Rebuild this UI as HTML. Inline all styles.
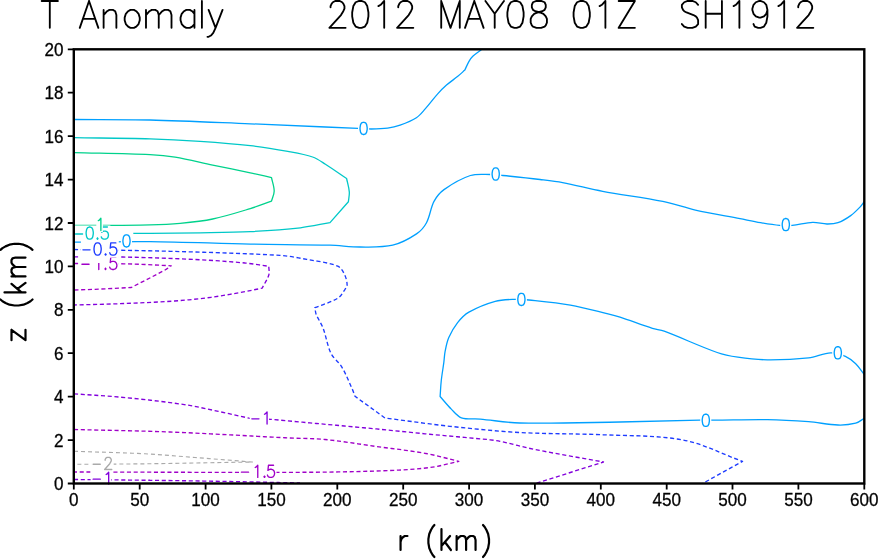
<!DOCTYPE html>
<html><head><meta charset="utf-8"><style>html,body{margin:0;padding:0;background:#fff;overflow:hidden}svg{display:block}</style></head>
<body><svg width="879" height="559" viewBox="0 0 879 559">
<rect width="879" height="559" fill="#fff"/>
<path d="M74.00 119.50 C99.33 119.67 124.68 119.38 150.00 120.00 C183.44 120.82 216.87 122.47 250.30 123.80 C275.34 124.80 300.37 125.95 325.40 127.00 C336.27 127.45 347.14 127.83 358.00 128.30 C362.44 128.49 366.87 129.01 371.30 129.00 C376.73 128.98 382.23 128.91 387.60 128.20 C391.83 127.64 396.09 126.66 400.10 125.20 C405.69 123.16 411.46 120.91 416.40 117.70 C419.83 115.47 422.44 111.99 425.20 108.90 C429.54 104.05 433.36 98.75 437.70 93.90 C440.46 90.81 443.38 87.83 446.50 85.10 C450.08 81.96 454.11 79.33 457.80 76.30 C460.21 74.33 462.47 72.17 464.80 70.10 C466.20 67.17 467.38 64.10 469.00 61.30 C470.04 59.50 471.28 57.72 472.80 56.30 C475.48 53.79 478.67 51.77 481.60 49.50" fill="none" stroke="#00a0ff" stroke-width="1.30" stroke-linejoin="round"/>
<path d="M74.00 242.10 C99.33 241.93 124.67 241.31 150.00 241.60 C183.44 241.98 216.86 243.43 250.30 244.10 C276.86 244.63 303.45 244.50 330.00 245.20 C340.05 245.47 350.07 247.00 360.10 247.00 C370.97 247.00 382.30 247.62 392.70 245.20 C401.10 243.25 409.32 238.68 416.50 233.90 C420.59 231.18 424.17 227.03 426.50 222.70 C430.00 216.19 430.54 207.95 434.00 201.40 C436.37 196.91 439.87 192.54 444.00 189.60 C452.00 183.91 461.13 178.52 470.40 175.50 C476.60 173.48 483.74 174.50 490.40 174.50 C494.57 174.50 498.74 175.08 502.90 175.50 C515.27 176.75 527.65 178.03 540.00 179.50 C547.55 180.40 555.13 181.19 562.60 182.60 C576.03 185.13 589.26 188.78 602.70 191.30 C622.66 195.05 642.91 197.37 662.80 201.40 C673.81 203.63 684.43 207.64 695.40 210.10 C710.17 213.41 725.13 215.83 740.00 218.70 C746.87 220.03 753.71 221.53 760.60 222.70 C766.87 223.76 773.17 224.86 779.50 225.40 C783.71 225.76 787.99 225.78 792.20 225.40 C799.06 224.78 805.85 222.68 812.70 222.40 C817.45 222.21 822.23 223.94 827.00 224.00 C830.67 224.04 834.59 223.91 838.00 222.70 C842.49 221.11 846.77 218.39 850.70 215.60 C854.17 213.13 857.23 209.98 860.20 206.90 C861.76 205.28 862.93 203.30 864.30 201.50" fill="none" stroke="#00a0ff" stroke-width="1.30" stroke-linejoin="round"/>
<path d="M864.30 374.50 C861.43 370.90 858.98 366.86 855.70 363.70 C852.68 360.80 849.20 357.96 845.40 356.30 C840.87 354.32 835.61 352.60 830.70 352.80 C823.34 353.10 816.08 356.97 808.60 357.80 C794.95 359.31 781.05 359.92 767.30 359.80 C757.48 359.72 747.61 358.62 737.90 357.20 C730.91 356.18 723.86 354.85 717.20 352.50 C699.29 346.18 682.01 337.85 664.20 331.20 C660.41 329.78 656.26 329.53 652.40 328.30 C641.52 324.83 630.86 320.65 620.00 317.10 C616.06 315.81 612.03 314.78 608.00 313.80 C595.50 310.78 583.06 307.31 570.40 305.10 C556.72 302.71 542.82 301.45 529.00 300.00 C524.42 299.52 519.79 299.12 515.20 299.30 C508.52 299.56 501.59 299.53 495.20 301.30 C486.16 303.80 477.03 307.50 468.90 312.10 C464.49 314.60 460.75 318.60 457.60 322.60 C454.05 327.10 451.09 332.33 448.80 337.60 C446.92 341.93 446.03 346.74 445.10 351.40 C444.36 355.11 444.29 358.94 443.80 362.70 C443.03 368.57 441.94 374.41 441.30 380.30 C440.71 385.68 440.50 391.10 440.10 396.50 C443.83 400.70 447.34 405.14 451.30 409.10 C454.44 412.24 457.41 416.42 461.40 417.80 C467.04 419.75 473.94 418.54 480.20 419.10 C493.41 420.28 506.55 422.73 519.80 423.00 C553.15 423.69 586.60 422.52 620.00 422.00 C646.54 421.59 673.07 420.71 699.60 420.20 C704.50 420.11 709.40 420.24 714.30 420.20 C731.97 420.04 749.64 419.32 767.30 419.60 C781.08 419.82 794.86 420.65 808.60 421.70 C818.43 422.45 828.20 424.69 838.00 425.00 C843.90 425.19 850.07 424.63 855.70 423.20 C858.83 422.40 861.43 419.93 864.30 418.30" fill="none" stroke="#00a0ff" stroke-width="1.30" stroke-linejoin="round"/>
<path d="M74.00 137.70 C99.33 138.07 124.68 138.08 150.00 138.80 C166.71 139.28 183.42 140.17 200.10 141.30 C216.85 142.44 233.63 143.68 250.30 145.60 C262.86 147.05 275.36 149.12 287.80 151.40 C296.13 152.92 304.66 154.30 312.60 157.00 C317.19 158.56 321.27 161.59 325.40 164.20 C332.60 168.75 339.53 173.73 346.60 178.50 C347.50 182.97 348.95 187.40 349.30 191.90 C349.55 195.14 348.70 198.43 348.40 201.70 L330.00 222.60 C320.13 224.33 310.34 226.68 300.40 227.80 C283.78 229.68 267.02 230.77 250.30 231.60 C233.59 232.43 216.84 232.52 200.10 232.80 C183.40 233.08 166.70 233.22 150.00 233.30 C124.67 233.42 99.33 233.37 74.00 233.40" fill="none" stroke="#00c8c8" stroke-width="1.30" stroke-linejoin="round"/>
<path d="M74.00 152.60 C99.33 153.27 124.70 153.47 150.00 154.60 C158.40 154.97 166.82 155.71 175.10 157.10 C187.72 159.21 200.16 162.48 212.70 165.10 C225.22 167.71 237.79 170.14 250.30 172.80 C257.39 174.31 264.43 176.00 271.50 177.60 C272.40 182.07 274.20 186.56 274.20 191.00 C274.20 194.43 272.40 197.80 271.50 201.20 C264.43 203.67 257.46 206.43 250.30 208.60 C237.86 212.37 225.40 216.34 212.70 219.00 C202.00 221.24 191.01 222.29 180.10 223.30 C170.11 224.22 160.04 224.59 150.00 224.80 C124.68 225.33 99.33 225.27 74.00 225.50" fill="none" stroke="#00d28c" stroke-width="1.30" stroke-linejoin="round"/>
<path d="M74.00 249.50 C106.00 250.10 138.01 250.38 170.00 251.30 C206.68 252.35 243.41 253.23 280.00 255.40 C289.01 255.93 297.92 257.75 306.80 259.40 C317.16 261.32 328.29 262.40 337.70 266.10 C340.83 267.33 342.87 271.14 344.40 274.20 C346.00 277.41 347.10 281.43 347.10 284.90 C347.10 286.80 345.55 288.66 344.40 290.30 C342.42 293.13 340.62 296.58 337.70 298.30 C330.79 302.38 322.50 304.57 314.90 307.70 C315.33 309.93 315.36 312.31 316.20 314.40 C318.06 319.04 321.22 323.20 323.00 327.90 C326.15 336.20 327.20 345.50 331.00 353.40 C333.44 358.47 338.80 361.92 341.70 366.80 C345.97 373.98 349.05 381.94 352.50 389.60 C353.48 391.77 354.17 394.07 355.00 396.30 L385.00 418.00 C406.67 420.77 428.29 423.96 450.00 426.30 C473.22 428.80 496.49 431.21 519.80 432.50 C547.65 434.04 575.62 433.51 603.50 434.80 C630.16 436.04 657.44 435.13 683.40 440.10 C703.77 444.00 722.80 454.30 742.50 461.40 L702.60 483.50" fill="none" stroke="#1e3cff" stroke-width="1.35" stroke-linejoin="round" stroke-dasharray="4.1 2.65"/>
<path d="M74.00 256.80 C90.17 256.87 106.34 256.64 122.50 257.00 C146.67 257.54 170.85 258.32 195.00 259.50 C211.68 260.32 228.37 261.47 245.00 263.00 C252.97 263.73 260.87 265.20 268.80 266.30 C268.80 269.20 269.63 272.30 268.80 275.00 C267.39 279.60 264.33 283.80 262.10 288.20 C254.20 289.73 246.32 291.39 238.40 292.80 C229.32 294.42 220.24 296.12 211.10 297.30 C198.98 298.86 186.80 300.14 174.60 301.00 C156.43 302.28 138.21 302.98 120.00 303.70 C104.67 304.31 89.33 304.57 74.00 305.00" fill="none" stroke="#8200dc" stroke-width="1.35" stroke-linejoin="round" stroke-dasharray="4.1 2.65"/>
<path d="M74.00 393.80 C91.43 395.10 108.91 396.00 126.30 397.70 C145.67 399.60 165.06 401.74 184.30 404.60 C195.76 406.30 207.06 409.02 218.40 411.40 C228.66 413.55 238.87 415.93 249.10 418.20 C256.90 418.63 264.71 418.92 272.50 419.50 C281.68 420.19 290.83 421.17 300.00 422.00 C325.00 424.27 350.01 426.44 375.00 428.80 C391.68 430.37 408.33 432.21 425.00 433.80 C445.83 435.78 466.67 437.60 487.50 439.50 C491.67 440.10 495.88 440.43 500.00 441.30 C511.88 443.80 523.59 447.22 535.50 449.60 C558.09 454.12 580.83 457.87 603.50 462.00 L535.50 483.50" fill="none" stroke="#8200dc" stroke-width="1.35" stroke-linejoin="round" stroke-dasharray="4.1 2.65"/>
<path d="M74.00 479.50 C99.33 479.77 124.67 479.98 150.00 480.30 C176.67 480.64 203.33 481.02 230.00 481.50 C253.33 481.92 276.67 482.50 300.00 483.00" fill="none" stroke="#8200dc" stroke-width="1.35" stroke-linejoin="round" stroke-dasharray="4.1 2.65"/>
<path d="M74.00 263.50 C90.60 263.60 107.20 263.57 123.80 263.80 C130.87 263.90 137.94 264.20 145.00 264.50 C153.77 264.87 162.53 265.37 171.30 265.80 C169.20 267.20 167.22 268.80 165.00 270.00 C153.88 276.03 142.53 281.67 131.30 287.50 C119.20 288.10 107.10 288.77 95.00 289.30 C88.00 289.61 81.00 289.77 74.00 290.00" fill="none" stroke="#a000c8" stroke-width="1.35" stroke-linejoin="round" stroke-dasharray="4.1 2.65"/>
<path d="M74.00 429.50 C106.00 430.33 138.02 430.74 170.00 432.00 C209.95 433.57 249.86 436.07 289.80 438.00 C301.53 438.57 313.32 438.36 325.00 439.50 C341.72 441.13 358.34 444.00 375.00 446.30 C391.67 448.60 408.45 450.34 425.00 453.30 C436.38 455.34 447.53 458.63 458.80 461.30 C449.20 463.37 439.72 466.29 430.00 467.50 C414.29 469.46 398.36 470.21 382.50 470.80 C355.02 471.81 327.50 472.19 300.00 472.30 C224.67 472.59 149.33 472.10 74.00 472.00" fill="none" stroke="#a000c8" stroke-width="1.35" stroke-linejoin="round" stroke-dasharray="4.1 2.65"/>
<path d="M74.00 451.30 C97.67 452.13 121.35 452.59 145.00 453.80 C161.69 454.66 178.34 456.23 195.00 457.50 C214.17 458.96 233.33 460.50 252.50 462.00 C216.67 462.60 180.83 463.34 145.00 463.80 C121.33 464.10 97.67 464.13 74.00 464.30" fill="none" stroke="#aaaaaa" stroke-width="1.15" stroke-linejoin="round" stroke-dasharray="4 3"/>
<rect x="490.1" y="166.4" width="11.1" height="15.2" fill="#fff"/>
<path d="M495.19 167.91 L493.66 168.49 L492.64 170.23 L492.13 173.13 L492.13 174.87 L492.64 177.77 L493.66 179.51 L495.19 180.09 L496.21 180.09 L497.74 179.51 L498.76 177.77 L499.27 174.87 L499.27 173.13 L498.76 170.23 L497.74 168.49 L496.21 167.91 L495.19 167.91" fill="none" stroke="#00a0ff" stroke-width="1.35" stroke-linecap="round" stroke-linejoin="round"/>
<rect x="358.0" y="120.8" width="11.1" height="15.2" fill="#fff"/>
<path d="M363.09 122.31 L361.56 122.89 L360.54 124.63 L360.03 127.53 L360.03 129.27 L360.54 132.17 L361.56 133.91 L363.09 134.49 L364.11 134.49 L365.64 133.91 L366.66 132.17 L367.17 129.27 L367.17 127.53 L366.66 124.63 L365.64 122.89 L364.11 122.31 L363.09 122.31" fill="none" stroke="#00a0ff" stroke-width="1.35" stroke-linecap="round" stroke-linejoin="round"/>
<rect x="780.2" y="217.0" width="11.1" height="15.2" fill="#fff"/>
<path d="M785.29 218.51 L783.76 219.09 L782.74 220.83 L782.23 223.73 L782.23 225.47 L782.74 228.37 L783.76 230.11 L785.29 230.69 L786.31 230.69 L787.84 230.11 L788.86 228.37 L789.37 225.47 L789.37 223.73 L788.86 220.83 L787.84 219.09 L786.31 218.51 L785.29 218.51" fill="none" stroke="#00a0ff" stroke-width="1.35" stroke-linecap="round" stroke-linejoin="round"/>
<rect x="515.8" y="291.8" width="11.1" height="15.2" fill="#fff"/>
<path d="M520.89 293.31 L519.36 293.89 L518.34 295.63 L517.83 298.53 L517.83 300.27 L518.34 303.17 L519.36 304.91 L520.89 305.49 L521.91 305.49 L523.44 304.91 L524.46 303.17 L524.97 300.27 L524.97 298.53 L524.46 295.63 L523.44 293.89 L521.91 293.31 L520.89 293.31" fill="none" stroke="#00a0ff" stroke-width="1.35" stroke-linecap="round" stroke-linejoin="round"/>
<rect x="832.2" y="345.2" width="11.1" height="15.2" fill="#fff"/>
<path d="M837.29 346.71 L835.76 347.29 L834.74 349.03 L834.23 351.93 L834.23 353.67 L834.74 356.57 L835.76 358.31 L837.29 358.89 L838.31 358.89 L839.84 358.31 L840.86 356.57 L841.37 353.67 L841.37 351.93 L840.86 349.03 L839.84 347.29 L838.31 346.71 L837.29 346.71" fill="none" stroke="#00a0ff" stroke-width="1.35" stroke-linecap="round" stroke-linejoin="round"/>
<rect x="700.2" y="412.7" width="11.1" height="15.2" fill="#fff"/>
<path d="M705.29 414.21 L703.76 414.79 L702.74 416.53 L702.23 419.43 L702.23 421.17 L702.74 424.07 L703.76 425.81 L705.29 426.39 L706.31 426.39 L707.84 425.81 L708.86 424.07 L709.37 421.17 L709.37 419.43 L708.86 416.53 L707.84 414.79 L706.31 414.21 L705.29 414.21" fill="none" stroke="#00a0ff" stroke-width="1.35" stroke-linecap="round" stroke-linejoin="round"/>
<rect x="73.4" y="225.5" width="37.0" height="15.2" fill="#fff"/>
<path d="M75.43 233.97 L82.57 233.97 M89.19 227.01 L87.66 227.59 L86.64 229.33 L86.13 232.23 L86.13 233.97 L86.64 236.87 L87.66 238.61 L89.19 239.19 L90.21 239.19 L91.74 238.61 L92.76 236.87 L93.27 233.97 L93.27 232.23 L92.76 229.33 L91.74 227.59 L90.21 227.01 L89.19 227.01 M97.50 238.03 L96.99 238.61 L97.50 239.19 L98.01 238.61 L97.50 238.03 M107.40 227.01 L102.30 227.01 L101.79 232.23 L102.30 231.65 L103.83 231.07 L105.36 231.07 L106.89 231.65 L107.91 232.81 L108.42 234.55 L108.42 235.71 L107.91 237.45 L106.89 238.61 L105.36 239.19 L103.83 239.19 L102.30 238.61 L101.79 238.03 L101.28 236.87" fill="none" stroke="#00c8c8" stroke-width="1.35" stroke-linecap="round" stroke-linejoin="round"/>
<rect x="96.3" y="216.8" width="6.6" height="15.2" fill="#fff"/>
<path d="M98.32 220.63 L99.34 220.05 L100.88 218.31 L100.88 230.49" fill="none" stroke="#00d28c" stroke-width="1.35" stroke-linecap="round" stroke-linejoin="round"/>
<rect x="109.8" y="231.6" width="23.5" height="3.6" fill="#fff"/>
<rect x="120.9" y="233.3" width="11.1" height="15.2" fill="#fff"/>
<path d="M125.99 234.81 L124.46 235.39 L123.44 237.13 L122.93 240.03 L122.93 241.77 L123.44 244.67 L124.46 246.41 L125.99 246.99 L127.01 246.99 L128.54 246.41 L129.56 244.67 L130.07 241.77 L130.07 240.03 L129.56 237.13 L128.54 235.39 L127.01 234.81 L125.99 234.81" fill="none" stroke="#00a0ff" stroke-width="1.35" stroke-linecap="round" stroke-linejoin="round"/>
<rect x="79.9" y="255.8" width="38.9" height="15.2" fill="#fff"/>
<path d="M81.93 264.27 L89.07 264.27 M96.22 259.63 L97.25 259.05 L98.78 257.31 L98.78 269.49 M105.50 268.33 L104.99 268.91 L105.50 269.49 L106.01 268.91 L105.50 268.33 M115.85 257.31 L110.75 257.31 L110.24 262.53 L110.75 261.95 L112.28 261.37 L113.81 261.37 L115.34 261.95 L116.36 263.11 L116.87 264.85 L116.87 266.01 L116.36 267.75 L115.34 268.91 L113.81 269.49 L112.28 269.49 L110.75 268.91 L110.24 268.33 L109.73 267.17" fill="none" stroke="#a000c8" stroke-width="1.35" stroke-linecap="round" stroke-linejoin="round"/>
<rect x="80.9" y="240.3" width="37.9" height="17.4" fill="#fff"/>
<path d="M82.93 249.87 L90.07 249.87 M97.09 242.91 L95.56 243.49 L94.54 245.23 L94.03 248.13 L94.03 249.87 L94.54 252.77 L95.56 254.51 L97.09 255.09 L98.11 255.09 L99.64 254.51 L100.66 252.77 L101.17 249.87 L101.17 248.13 L100.66 245.23 L99.64 243.49 L98.11 242.91 L97.09 242.91 M105.60 253.93 L105.09 254.51 L105.60 255.09 L106.11 254.51 L105.60 253.93 M115.85 242.91 L110.75 242.91 L110.24 248.13 L110.75 247.55 L112.28 246.97 L113.81 246.97 L115.34 247.55 L116.36 248.71 L116.87 250.45 L116.87 251.61 L116.36 253.35 L115.34 254.51 L113.81 255.09 L112.28 255.09 L110.75 254.51 L110.24 253.93 L109.73 252.77" fill="none" stroke="#1e3cff" stroke-width="1.35" stroke-linecap="round" stroke-linejoin="round"/>
<rect x="91.1" y="455.8" width="22.6" height="15.2" fill="#fff"/>
<path d="M93.13 464.27 L100.27 464.27 M105.14 460.21 L105.14 459.63 L105.65 458.47 L106.16 457.89 L107.18 457.31 L109.22 457.31 L110.24 457.89 L110.75 458.47 L111.26 459.63 L111.26 460.79 L110.75 461.95 L109.73 463.69 L104.63 469.49 L111.77 469.49" fill="none" stroke="#aaaaaa" stroke-width="1.35" stroke-linecap="round" stroke-linejoin="round"/>
<rect x="90.6" y="470.8" width="20.5" height="15.0" fill="#fff"/>
<path d="M93.13 479.17 L100.27 479.17 M106.12 474.53 L107.15 473.95 L108.68 472.21 L108.68 484.39" fill="none" stroke="#8200dc" stroke-width="1.35" stroke-linecap="round" stroke-linejoin="round"/>
<rect x="239.4" y="463.7" width="37.1" height="15.2" fill="#fff"/>
<path d="M241.43 472.17 L248.57 472.17 M255.22 467.53 L256.25 466.95 L257.77 465.21 L257.77 477.39 M264.50 476.23 L263.99 476.81 L264.50 477.39 L265.01 476.81 L264.50 476.23 M273.55 465.21 L268.45 465.21 L267.94 470.43 L268.45 469.85 L269.98 469.27 L271.51 469.27 L273.04 469.85 L274.06 471.01 L274.57 472.75 L274.57 473.91 L274.06 475.65 L273.04 476.81 L271.51 477.39 L269.98 477.39 L268.45 476.81 L267.94 476.23 L267.43 475.07" fill="none" stroke="#a000c8" stroke-width="1.35" stroke-linecap="round" stroke-linejoin="round"/>
<rect x="249.8" y="410.4" width="19.2" height="15.2" fill="#fff"/>
<path d="M251.83 418.87 L258.97 418.87 M264.52 414.23 L265.55 413.65 L267.07 411.91 L267.07 424.09" fill="none" stroke="#8200dc" stroke-width="1.35" stroke-linecap="round" stroke-linejoin="round"/>
<rect x="94.5" y="256.0" width="7.5" height="7.0" fill="#fff"/>
<rect x="103.5" y="484.6" width="8.0" height="2.5" fill="#fff"/>
<rect x="73.8" y="49.3" width="790.5" height="434.2" fill="none" stroke="#000" stroke-width="2.4"/>
<path d="M73.8 483.5 V489.5 M139.7 483.5 V489.5 M205.6 483.5 V489.5 M271.4 483.5 V489.5 M337.3 483.5 V489.5 M403.2 483.5 V489.5 M469.1 483.5 V489.5 M534.9 483.5 V489.5 M600.8 483.5 V489.5 M666.7 483.5 V489.5 M732.5 483.5 V489.5 M798.4 483.5 V489.5 M864.3 483.5 V489.5 M73.8 483.5 H67.8 M73.8 440.1 H67.8 M73.8 396.7 H67.8 M73.8 353.2 H67.8 M73.8 309.8 H67.8 M73.8 266.4 H67.8 M73.8 223.0 H67.8 M73.8 179.6 H67.8 M73.8 136.1 H67.8 M73.8 92.7 H67.8 M73.8 49.3 H67.8" stroke="#000" stroke-width="1.8" fill="none"/>
<g opacity="0.999">
<text transform="translate(73.8 506) scale(0.95 1)" text-anchor="middle" font-family="Liberation Sans" font-size="18" fill="#000" stroke="#000" stroke-width="0.3">0</text>
<text transform="translate(139.7 506) scale(0.95 1)" text-anchor="middle" font-family="Liberation Sans" font-size="18" fill="#000" stroke="#000" stroke-width="0.3">50</text>
<text transform="translate(205.6 506) scale(0.95 1)" text-anchor="middle" font-family="Liberation Sans" font-size="18" fill="#000" stroke="#000" stroke-width="0.3">100</text>
<text transform="translate(271.4 506) scale(0.95 1)" text-anchor="middle" font-family="Liberation Sans" font-size="18" fill="#000" stroke="#000" stroke-width="0.3">150</text>
<text transform="translate(337.3 506) scale(0.95 1)" text-anchor="middle" font-family="Liberation Sans" font-size="18" fill="#000" stroke="#000" stroke-width="0.3">200</text>
<text transform="translate(403.2 506) scale(0.95 1)" text-anchor="middle" font-family="Liberation Sans" font-size="18" fill="#000" stroke="#000" stroke-width="0.3">250</text>
<text transform="translate(469.1 506) scale(0.95 1)" text-anchor="middle" font-family="Liberation Sans" font-size="18" fill="#000" stroke="#000" stroke-width="0.3">300</text>
<text transform="translate(534.9 506) scale(0.95 1)" text-anchor="middle" font-family="Liberation Sans" font-size="18" fill="#000" stroke="#000" stroke-width="0.3">350</text>
<text transform="translate(600.8 506) scale(0.95 1)" text-anchor="middle" font-family="Liberation Sans" font-size="18" fill="#000" stroke="#000" stroke-width="0.3">400</text>
<text transform="translate(666.7 506) scale(0.95 1)" text-anchor="middle" font-family="Liberation Sans" font-size="18" fill="#000" stroke="#000" stroke-width="0.3">450</text>
<text transform="translate(732.5 506) scale(0.95 1)" text-anchor="middle" font-family="Liberation Sans" font-size="18" fill="#000" stroke="#000" stroke-width="0.3">500</text>
<text transform="translate(798.4 506) scale(0.95 1)" text-anchor="middle" font-family="Liberation Sans" font-size="18" fill="#000" stroke="#000" stroke-width="0.3">550</text>
<text transform="translate(864.3 506) scale(0.95 1)" text-anchor="middle" font-family="Liberation Sans" font-size="18" fill="#000" stroke="#000" stroke-width="0.3">600</text>
<text transform="translate(63.6 490.0) scale(0.95 1)" text-anchor="end" font-family="Liberation Sans" font-size="18" fill="#000" stroke="#000" stroke-width="0.3">0</text>
<text transform="translate(63.6 446.6) scale(0.95 1)" text-anchor="end" font-family="Liberation Sans" font-size="18" fill="#000" stroke="#000" stroke-width="0.3">2</text>
<text transform="translate(63.6 403.2) scale(0.95 1)" text-anchor="end" font-family="Liberation Sans" font-size="18" fill="#000" stroke="#000" stroke-width="0.3">4</text>
<text transform="translate(63.6 359.7) scale(0.95 1)" text-anchor="end" font-family="Liberation Sans" font-size="18" fill="#000" stroke="#000" stroke-width="0.3">6</text>
<text transform="translate(63.6 316.3) scale(0.95 1)" text-anchor="end" font-family="Liberation Sans" font-size="18" fill="#000" stroke="#000" stroke-width="0.3">8</text>
<text transform="translate(63.6 272.9) scale(0.95 1)" text-anchor="end" font-family="Liberation Sans" font-size="18" fill="#000" stroke="#000" stroke-width="0.3">10</text>
<text transform="translate(63.6 229.5) scale(0.95 1)" text-anchor="end" font-family="Liberation Sans" font-size="18" fill="#000" stroke="#000" stroke-width="0.3">12</text>
<text transform="translate(63.6 186.1) scale(0.95 1)" text-anchor="end" font-family="Liberation Sans" font-size="18" fill="#000" stroke="#000" stroke-width="0.3">14</text>
<text transform="translate(63.6 142.6) scale(0.95 1)" text-anchor="end" font-family="Liberation Sans" font-size="18" fill="#000" stroke="#000" stroke-width="0.3">16</text>
<text transform="translate(63.6 99.2) scale(0.95 1)" text-anchor="end" font-family="Liberation Sans" font-size="18" fill="#000" stroke="#000" stroke-width="0.3">18</text>
<text transform="translate(63.6 55.8) scale(0.95 1)" text-anchor="end" font-family="Liberation Sans" font-size="18" fill="#000" stroke="#000" stroke-width="0.3">20</text>
</g>
<path d="M49.80 0.97 L49.80 27.85 M41.68 0.97 L57.92 0.97 M89.05 0.97 L79.77 27.85 M89.05 0.97 L98.33 27.85 M83.25 18.89 L94.85 18.89 M103.62 9.93 L103.62 27.85 M103.62 15.05 L107.10 11.21 L109.42 9.93 L112.90 9.93 L115.22 11.21 L116.38 15.05 L116.38 27.85 M130.46 9.93 L128.14 11.21 L125.82 13.77 L124.66 17.61 L124.66 20.17 L125.82 24.01 L128.14 26.57 L130.46 27.85 L133.94 27.85 L136.26 26.57 L138.58 24.01 L139.74 20.17 L139.74 17.61 L138.58 13.77 L136.26 11.21 L133.94 9.93 L130.46 9.93 M145.99 9.93 L145.99 27.85 M145.99 15.05 L149.47 11.21 L151.79 9.93 L155.27 9.93 L157.59 11.21 L158.75 15.05 L158.75 27.85 M158.75 15.05 L162.23 11.21 L164.55 9.93 L168.03 9.93 L170.35 11.21 L171.51 15.05 L171.51 27.85 M194.46 9.93 L194.46 27.85 M194.46 13.77 L192.14 11.21 L189.82 9.93 L186.34 9.93 L184.02 11.21 L181.70 13.77 L180.54 17.61 L180.54 20.17 L181.70 24.01 L184.02 26.57 L186.34 27.85 L189.82 27.85 L192.14 26.57 L194.46 24.01 M201.90 0.97 L201.90 27.85 M208.62 9.93 L215.58 27.85 M222.54 9.93 L215.58 27.85 L213.26 32.97 L210.94 35.53 L208.62 36.81 L207.46 36.81" fill="none" stroke="#000" stroke-width="1.85" stroke-linecap="round" stroke-linejoin="round"/>
<path d="M330.54 7.37 L330.54 6.09 L331.70 3.53 L332.86 2.25 L335.18 0.97 L339.82 0.97 L342.14 2.25 L343.30 3.53 L344.46 6.09 L344.46 8.65 L343.30 11.21 L340.98 15.05 L329.38 27.85 L345.62 27.85 M359.14 0.97 L355.66 2.25 L353.34 6.09 L352.18 12.49 L352.18 16.33 L353.34 22.73 L355.66 26.57 L359.14 27.85 L361.46 27.85 L364.94 26.57 L367.26 22.73 L368.42 16.33 L368.42 12.49 L367.26 6.09 L364.94 2.25 L361.46 0.97 L359.14 0.97 M378.40 6.09 L380.72 4.81 L384.20 0.97 L384.20 27.85 M398.24 7.37 L398.24 6.09 L399.40 3.53 L400.56 2.25 L402.88 0.97 L407.52 0.97 L409.84 2.25 L411.00 3.53 L412.16 6.09 L412.16 8.65 L411.00 11.21 L408.68 15.05 L397.08 27.85 L413.32 27.85 M441.22 0.97 L441.22 27.85 M441.22 0.97 L450.50 27.85 M459.78 0.97 L450.50 27.85 M459.78 0.97 L459.78 27.85 M474.30 0.97 L465.02 27.85 M474.30 0.97 L483.58 27.85 M468.50 18.89 L480.10 18.89 M485.42 0.97 L494.70 13.77 L494.70 27.85 M503.98 0.97 L494.70 13.77 M514.34 0.97 L510.86 2.25 L508.54 6.09 L507.38 12.49 L507.38 16.33 L508.54 22.73 L510.86 26.57 L514.34 27.85 L516.66 27.85 L520.14 26.57 L522.46 22.73 L523.62 16.33 L523.62 12.49 L522.46 6.09 L520.14 2.25 L516.66 0.97 L514.34 0.97 M536.48 0.97 L533.00 2.25 L531.84 4.81 L531.84 7.37 L533.00 9.93 L535.32 11.21 L539.96 12.49 L543.44 13.77 L545.76 16.33 L546.92 18.89 L546.92 22.73 L545.76 25.29 L544.60 26.57 L541.12 27.85 L536.48 27.85 L533.00 26.57 L531.84 25.29 L530.68 22.73 L530.68 18.89 L531.84 16.33 L534.16 13.77 L537.64 12.49 L542.28 11.21 L544.60 9.93 L545.76 7.37 L545.76 4.81 L544.60 2.25 L541.12 0.97 L536.48 0.97 M580.54 0.97 L577.06 2.25 L574.74 6.09 L573.58 12.49 L573.58 16.33 L574.74 22.73 L577.06 26.57 L580.54 27.85 L582.86 27.85 L586.34 26.57 L588.66 22.73 L589.82 16.33 L589.82 12.49 L588.66 6.09 L586.34 2.25 L582.86 0.97 L580.54 0.97 M599.60 6.09 L601.92 4.81 L605.40 0.97 L605.40 27.85 M634.92 0.97 L618.68 27.85 M618.68 0.97 L634.92 0.97 M618.68 27.85 L634.92 27.85 M698.12 4.81 L695.80 2.25 L692.32 0.97 L687.68 0.97 L684.20 2.25 L681.88 4.81 L681.88 7.37 L683.04 9.93 L684.20 11.21 L686.52 12.49 L693.48 15.05 L695.80 16.33 L696.96 17.61 L698.12 20.17 L698.12 24.01 L695.80 26.57 L692.32 27.85 L687.68 27.85 L684.20 26.57 L681.88 24.01 M705.68 0.97 L705.68 27.85 M721.92 0.97 L721.92 27.85 M705.68 13.77 L721.92 13.77 M733.60 6.09 L735.92 4.81 L739.40 0.97 L739.40 27.85 M767.44 9.93 L766.28 13.77 L763.96 16.33 L760.48 17.61 L759.32 17.61 L755.84 16.33 L753.52 13.77 L752.36 9.93 L752.36 8.65 L753.52 4.81 L755.84 2.25 L759.32 0.97 L760.48 0.97 L763.96 2.25 L766.28 4.81 L767.44 9.93 L767.44 16.33 L766.28 22.73 L763.96 26.57 L760.48 27.85 L758.16 27.85 L754.68 26.57 L753.52 24.01 M778.40 6.09 L780.72 4.81 L784.20 0.97 L784.20 27.85 M798.24 7.37 L798.24 6.09 L799.40 3.53 L800.56 2.25 L802.88 0.97 L807.52 0.97 L809.84 2.25 L811.00 3.53 L812.16 6.09 L812.16 8.65 L811.00 11.21 L808.68 15.05 L797.08 27.85 L813.32 27.85" fill="none" stroke="#000" stroke-width="1.85" stroke-linecap="round" stroke-linejoin="round"/>
<path d="M400.56 536.00 L400.56 550.00 M400.56 542.00 L401.42 539.00 L403.14 537.00 L404.86 536.00 L407.44 536.00 M434.41 525.00 L432.69 527.00 L430.97 530.00 L429.25 534.00 L428.39 539.00 L428.39 543.00 L429.25 548.00 L430.97 552.00 L432.69 555.00 L434.41 557.00 M441.47 529.00 L441.47 550.00 M450.07 536.00 L441.47 546.00 M444.91 542.00 L450.93 550.00 M456.64 536.00 L456.64 550.00 M456.64 540.00 L459.22 537.00 L460.94 536.00 L463.52 536.00 L465.24 537.00 L466.10 540.00 L466.10 550.00 M466.10 540.00 L468.68 537.00 L470.40 536.00 L472.98 536.00 L474.70 537.00 L475.56 540.00 L475.56 550.00 M482.99 525.00 L484.71 527.00 L486.43 530.00 L488.15 534.00 L489.01 539.00 L489.01 543.00 L488.15 548.00 L486.43 552.00 L484.71 555.00 L482.99 557.00" fill="none" stroke="#000" stroke-width="2.20" stroke-linecap="round" stroke-linejoin="round"/>
<g transform="translate(25.5 0) rotate(-90)"><path d="M-329.84 -14.00 L-340.16 0.00 M-340.16 -14.00 L-329.84 -14.00 M-340.16 0.00 L-329.84 0.00 M-299.49 -25.00 L-301.21 -23.00 L-302.93 -20.00 L-304.65 -16.00 L-305.51 -11.00 L-305.51 -7.00 L-304.65 -2.00 L-302.93 2.00 L-301.21 5.00 L-299.49 7.00 M-292.43 -21.00 L-292.43 0.00 M-283.83 -14.00 L-292.43 -4.00 M-288.99 -8.00 L-282.97 0.00 M-276.46 -14.00 L-276.46 0.00 M-276.46 -10.00 L-273.88 -13.00 L-272.16 -14.00 L-269.58 -14.00 L-267.86 -13.00 L-267.00 -10.00 L-267.00 0.00 M-267.00 -10.00 L-264.42 -13.00 L-262.70 -14.00 L-260.12 -14.00 L-258.40 -13.00 L-257.54 -10.00 L-257.54 0.00 M-249.81 -25.00 L-248.09 -23.00 L-246.37 -20.00 L-244.65 -16.00 L-243.79 -11.00 L-243.79 -7.00 L-244.65 -2.00 L-246.37 2.00 L-248.09 5.00 L-249.81 7.00" fill="none" stroke="#000" stroke-width="2.20" stroke-linecap="round" stroke-linejoin="round"/></g>
</svg></body></html>
